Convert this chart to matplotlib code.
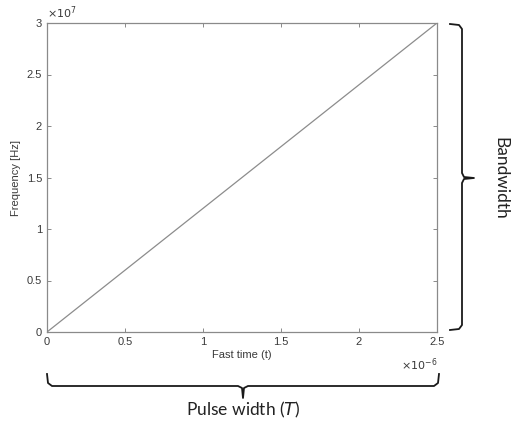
import matplotlib
matplotlib.use("Agg")
import matplotlib.pyplot as plt
import numpy as np

# chirp: frequency vs fast time
t_vals = [0.0, 2.5e-6]
f_vals = [0.0, 3.0e7]
x_ticks = [0, 0.5, 1, 1.5, 2, 2.5]
y_ticks = [0, 0.5, 1, 1.5, 2, 2.5, 3]

plt.rcParams["font.family"] = ["Liberation Sans", "DejaVu Sans"]
W, H = 511, 428
fig = plt.figure(figsize=(W / 100, H / 100), dpi=100)
ax = fig.add_axes([47 / W, 1 - 332 / H, 390 / W, 309 / H])

ax.plot(np.array(t_vals) * 1e6, np.array(f_vals) / 1e7, color="#8c8c8c", lw=0.9)
ax.set_xlim(0, 2.5)
ax.set_ylim(0, 3)
ax.set_xticks(x_ticks)
ax.set_xticklabels([f"{v:g}" for v in x_ticks])
ax.set_yticks(y_ticks)
ax.set_yticklabels([f"{v:g}" for v in y_ticks])
for s in ax.spines.values():
    s.set_color("#8a8a8a")
    s.set_linewidth(0.9)
ax.tick_params(direction="in", length=3, width=0.7, colors="#8a8a8a",
               labelcolor="#3a3a3a", labelsize=8, top=True, right=True)
ax.set_xlabel("Fast time (t)", fontsize=8, color="#3a3a3a", labelpad=2)
ax.set_ylabel("Frequency [Hz]", fontsize=8, color="#3a3a3a", labelpad=4)
ax.text(0.0, 1.008, r"$\times10^{7}$", transform=ax.transAxes, fontsize=8,
        color="#3a3a3a", ha="left", va="bottom")
ax.text(1.0, -0.08, r"$\times10^{-6}$", transform=ax.transAxes, fontsize=8,
        color="#3a3a3a", ha="right", va="top")

# overlay in pixel coords for the braces
ov = fig.add_axes([0, 0, 1, 1])
ov.set_xlim(0, W)
ov.set_ylim(H, 0)
ov.axis("off")
bc = "#1a1a1a"
# bottom brace
x0, x1, yt, yb = 47, 439, 374, 386
xm = 243
ov.plot([x0, x0 + 1, x0 + 5, xm - 5, xm - 1, xm, xm + 1, xm + 5, x1 - 5, x1 - 1, x1],
        [yt, yb - 3, yb, yb, yb + 2, yb + 12, yb + 2, yb, yb, yb - 3, yt],
        color=bc, lw=1.3)
# right brace
y0, y1, xl, xr = 24, 330, 450, 462
ym = 178
ov.plot([xl, xr - 3, xr, xr, xr + 2, xr + 12, xr + 2, xr, xr, xr - 3, xl],
        [y0, y0 + 1, y0 + 5, ym - 5, ym - 1, ym, ym + 1, ym + 5, y1 - 5, y1 - 1, y1],
        color=bc, lw=1.3)

fig.text(243 / W, 1 - 410 / H, r"Pulse width ($T$)", fontsize=12.5,
         family=["Lato", "DejaVu Sans"], color="#222222", ha="center", va="center")
fig.text(500 / W, 1 - 178 / H, "Bandwidth", fontsize=12.5, rotation=-90,
         family=["Lato", "DejaVu Sans"], color="#222222", ha="center", va="center")

fig.savefig("out.png", dpi=100)
